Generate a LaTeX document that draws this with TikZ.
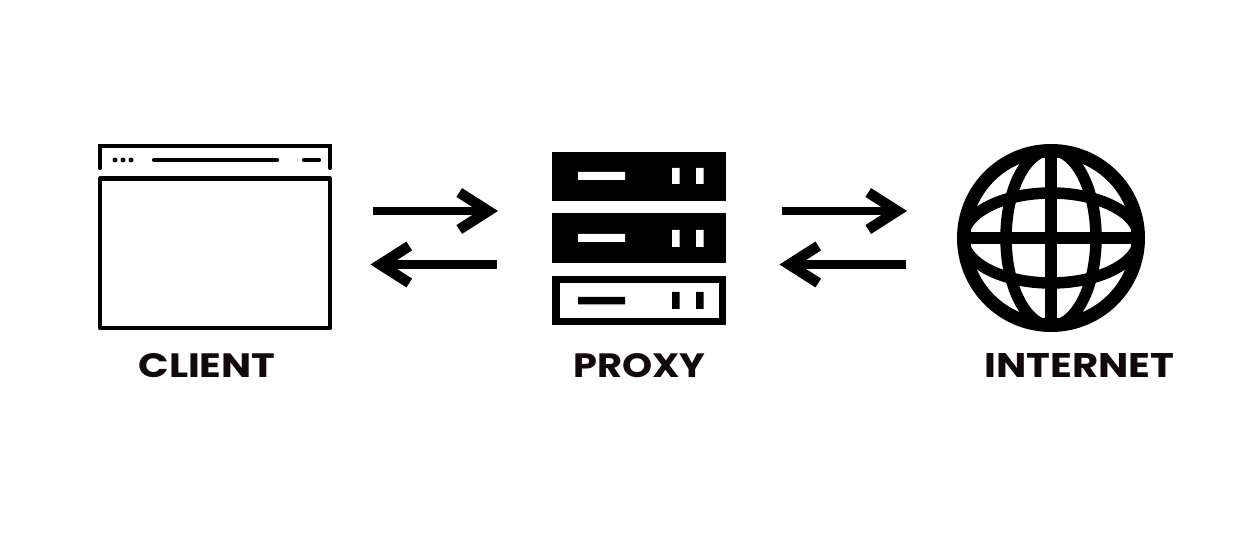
\documentclass[tikz,border=0pt]{standalone}
\usepackage{fontspec}
\usepackage{graphicx}
\setmainfont{Poppins}[BoldFont={* Bold}]
\usetikzlibrary{arrows.meta}
\definecolor{ink}{HTML}{120A0A}
\tikzset{
  wline/.style={draw=black,line width=4.2pt,line cap=round,line join=miter},
  hbar/.style={line width=4.2pt,line cap=round},
  srv/.style={fill=black,draw=none},
  flow/.style={line width=8.2pt,black,-{Straight Barb[length=29pt,width=37pt,line width=10.5pt]}},
  lab/.style={inner sep=0pt,text=ink,font=\bfseries},
  globe/.style={draw=black,line width=11.5pt}
}
\begin{document}
\begin{tikzpicture}[x=1pt,y=-1pt]
\useasboundingbox (0,0) rectangle (1257,534);
\fill[white] (0,0) rectangle (1257,534);
% client window
\draw[wline] (100,168) -- (100,146) -- (330,146) -- (330,168);
\fill (115,160) circle (2.5) (123,160) circle (2.5) (131,160) circle (2.5);
\draw[hbar] (154,160) -- (277,160);
\draw[hbar] (304,160) -- (319,160);
\draw[draw=black,line width=4.2pt,line join=round] (100,178.5) rectangle (330,328);
% proxy stack
\fill[srv] (552,152) rectangle (726,201);
\fill[srv] (552,213) rectangle (726,263);
\fill[srv] (552,276) rectangle (726,325);
\fill[white] (559.5,283.5) rectangle (718.5,317.5);
\fill[white] (578,172) rectangle (625,180) (672,168) rectangle (679.5,184) (696,168) rectangle (703.5,184);
\fill[white] (578,234) rectangle (625,242) (672,230) rectangle (679.5,247) (696,230) rectangle (703.5,247);
\fill[black] (578,297) rectangle (625,304.5) (672,292) rectangle (679.5,309) (696,292) rectangle (703.5,309);
% globe
\begin{scope}
\clip (1051,238) circle (90);
\draw[globe] (1051,238) ellipse (45 and 88);
\draw[globe] (1051,238) ellipse (88 and 45);
\draw[globe] (1051,144) -- (1051,332);
\draw[globe] (957,238) -- (1145,238);
\end{scope}
\draw[draw=black,line width=13.5pt] (1051,238) circle (87.25);
% arrows
\coordinate (a1s) at (372.5,211); \coordinate (a1e) at (498,211);
\coordinate (a2s) at (496.5,264.5); \coordinate (a2e) at (370.5,264.5);
\coordinate (a3s) at (781.5,211); \coordinate (a3e) at (907,211);
\coordinate (a4s) at (905.5,264.5); \coordinate (a4e) at (779.5,264.5);
\draw[flow] (a1s) -- (a1e);
\draw[flow] (a2s) -- (a2e);
\draw[flow] (a3s) -- (a3e);
\draw[flow] (a4s) -- (a4e);
% labels
\node[lab] (client) at (207,365.5) {\resizebox{137pt}{24pt}{CLIENT}};
\node[lab] (proxy) at (639.5,365.5) {\resizebox{132pt}{24pt}{PROXY}};
\node[lab] (internet) at (1079.5,365.5) {\resizebox{190pt}{24pt}{INTERNET}};
\end{tikzpicture}
\end{document}
